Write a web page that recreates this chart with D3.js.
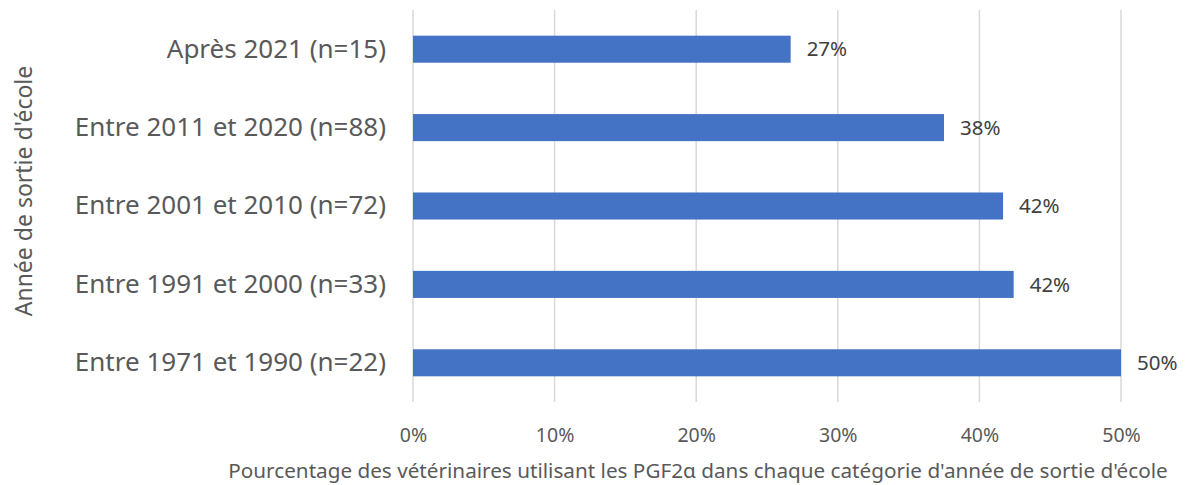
<!DOCTYPE html>
<html>
<head>
<meta charset="utf-8">
<script src="https://cdn.jsdelivr.net/npm/d3@7"></script>
<style>
  body { margin: 0; background: #fff; }
  text { font-family: "Noto Sans", "Open Sans", sans-serif; }
</style>
</head>
<body>
<svg id="chart" width="1189" height="485"></svg>
<script>
const categories = [
  "Après 2021 (n=15)",
  "Entre 2011 et 2020 (n=88)",
  "Entre 2001 et 2010 (n=72)",
  "Entre 1991 et 2000 (n=33)",
  "Entre 1971 et 1990 (n=22)"
]
const values = [0.2667, 0.375, 0.4167, 0.4242, 0.50]
const ticks = [0, 0.1, 0.2, 0.3, 0.4, 0.5]
const xLabel = "Pourcentage des vétérinaires utilisant les PGF2α dans chaque catégorie d'année de sortie d'école"
const yLabel = "Année de sortie d'école"

const svg = d3.select('#chart')
const plotLeft = 413, plotRight = 1121, plotTop = 10, plotBottom = 402

const x = d3.scaleLinear().domain([0, 0.5]).range([plotLeft, plotRight])
const y = d3.scaleBand()
  .domain(categories)
  .range([plotTop, plotBottom])
  .paddingInner(0.655)
  .paddingOuter(0.3275)

// gridlines
svg.append('g')
  .selectAll('line')
  .data(ticks)
  .enter()
  .append('line')
  .attr('x1', d => x(d))
  .attr('x2', d => x(d))
  .attr('y1', plotTop)
  .attr('y2', plotBottom)
  .attr('stroke', '#d9d9d9')
  .attr('stroke-width', 1.5)

// x tick labels
svg.append('g')
  .attr('class', 'x-axis')
  .attr('transform', `translate(0,${plotBottom})`)
  .call(d3.axisBottom(x)
    .tickValues(ticks)
    .tickFormat(d3.format('.0%'))
    .tickSize(0)
    .tickPadding(26))
  .call(g => g.select('.domain').remove())
  .selectAll('text')
  .attr('font-size', 19.5)
  .attr('fill', '#595959')
  .style('font-family', '"Noto Sans", sans-serif')

// y category labels
svg.append('g')
  .attr('class', 'y-axis')
  .attr('transform', `translate(${plotLeft},0)`)
  .call(d3.axisLeft(y).tickSize(0).tickPadding(27))
  .call(g => g.select('.domain').remove())
  .selectAll('text')
  .attr('font-size', 26)
  .attr('fill', '#595959')
  .style('font-family', '"Noto Sans", sans-serif')

// bars
svg.append('g')
  .selectAll('rect')
  .data(values)
  .enter()
  .append('rect')
  .attr('x', x(0))
  .attr('y', (d, i) => y(categories[i]))
  .attr('width', d => x(d) - x(0))
  .attr('height', y.bandwidth())
  .attr('fill', '#4472c4')

// data labels
svg.append('g')
  .selectAll('text')
  .data(values)
  .enter()
  .append('text')
  .attr('x', d => x(d) + 16)
  .attr('y', (d, i) => y(categories[i]) + y.bandwidth() / 2)
  .attr('dy', '0.35em')
  .attr('font-size', 20.5)
  .attr('fill', '#404040')
  .text(d => d3.format('.0%')(d))

// axis titles
svg.append('text')
  .attr('x', 698)
  .attr('y', 478)
  .attr('text-anchor', 'middle')
  .attr('font-size', 20.7)
  .attr('fill', '#595959')
  .text(xLabel)

svg.append('text')
  .attr('transform', 'translate(32,191) rotate(-90)')
  .attr('text-anchor', 'middle')
  .attr('font-size', 23)
  .attr('fill', '#595959')
  .text(yLabel)
</script>
</body>
</html>
